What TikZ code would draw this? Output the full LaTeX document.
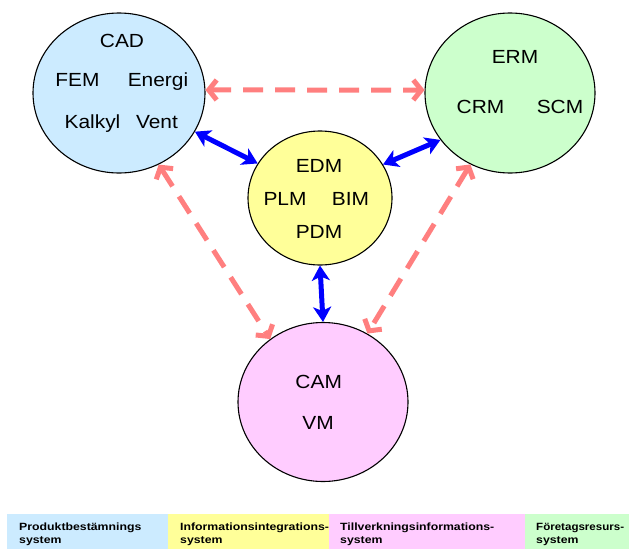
\documentclass[tikz,border=0pt]{standalone}
\usepackage{fontspec}
\setmainfont{Liberation Sans}
\usetikzlibrary{shapes.geometric,arrows.meta}
\definecolor{cblue}{HTML}{CCEBFF}
\definecolor{cyellow}{HTML}{FFFF99}
\definecolor{cpink}{HTML}{FFCCFF}
\definecolor{cgreen}{HTML}{CCFFCC}
\definecolor{salmon}{HTML}{FF7F7F}
\definecolor{arrblue}{HTML}{0000FF}
\newcommand{\ctxt}[1]{\scalebox{1.1}[1]{#1}}
\newcommand{\ltxt}[1]{\scalebox{1.17}[1]{#1}}
\tikzset{
  sys/.style={ellipse, draw=black, line width=1.1pt, inner sep=0pt},
  lbl/.style={anchor=base, inner sep=0pt, font=\fontsize{19}{22}\selectfont},
  bluearr/.style={draw=arrblue, line width=5pt, {Stealth[length=15pt,width=18pt,inset=4pt]}-{Stealth[length=15pt,width=18pt,inset=4pt]}},
  pinkarr/.style={draw=salmon, line width=5pt, dash pattern=on 20pt off 12pt,
     {Straight Barb[length=8pt,width=20pt,line width=5pt]}-{Straight Barb[length=8pt,width=20pt,line width=5pt]}},
  legtxt/.style={anchor=base west, inner sep=0pt, font=\fontsize{10.5}{13.5}\selectfont\bfseries},
}
\begin{document}
\begin{tikzpicture}[x=1pt,y=-1pt]
\useasboundingbox (0,0) rectangle (629,549);
% systems
\node[sys, fill=cblue, minimum width=172pt, minimum height=160pt] (blue) at (119,93) {};
\node[sys, fill=cgreen, minimum width=170pt, minimum height=160pt] (green) at (510,93) {};
\node[sys, fill=cyellow, minimum width=144pt, minimum height=134pt] (yellow) at (320,198) {};
\node[sys, fill=cpink, minimum width=170pt, minimum height=159pt] (pink) at (323,402) {};
% labels
\node[lbl] (cad) at (122,47) {\ctxt{CAD}};
\node[lbl] (fem) at (77.5,86) {\ctxt{FEM}};
\node[lbl] (energi) at (158,86) {\ctxt{Energi}};
\node[lbl] (kalkyl) at (92.5,128) {\ctxt{Kalkyl}};
\node[lbl] (vent) at (157,128) {\ctxt{Vent}};
\node[lbl] (erm) at (515,63) {\ctxt{ERM}};
\node[lbl] (crm) at (480.5,113) {\ctxt{CRM}};
\node[lbl] (scm) at (560,113) {\ctxt{SCM}};
\node[lbl] (edm) at (319,172) {\ctxt{EDM}};
\node[lbl] (plm) at (285,205) {\ctxt{PLM}};
\node[lbl] (bim) at (350.5,205) {\ctxt{BIM}};
\node[lbl] (pdm) at (319,238) {\ctxt{PDM}};
\node[lbl] (cam) at (318.7,388) {\ctxt{CAM}};
\node[lbl] (vm) at (318,429) {\ctxt{VM}};
% connectors
\draw[bluearr] (blue.-27) -- (yellow.151);
\draw[bluearr] (yellow.28) -- (green.214);
\draw[bluearr] (yellow.south) -- (pink.north);
\draw[pinkarr] (blue.2) -- (green.178);
\draw[pinkarr] (blue.-61.6) -- (pink.130.7);
\draw[pinkarr] (green.241.6) -- (pink.57.9);
% legend
\fill[cblue] (7,514) rectangle (168,549);
\fill[cyellow] (168,514) rectangle (329,549);
\fill[cpink] (329,514) rectangle (525,549);
\fill[cgreen] (525,514) rectangle (629,549);
\node[legtxt] (l1a) at (19,530) {\ltxt{Produktbestämnings}};
\node[legtxt] (l1b) at (19,543) {\ltxt{system}};
\node[legtxt] (l2a) at (180,530) {\ltxt{Informationsintegrations-}};
\node[legtxt] (l2b) at (180,543) {\ltxt{system}};
\node[legtxt] (l3a) at (340,530) {\ltxt{Tillverkningsinformations-}};
\node[legtxt] (l3b) at (340,543) {\ltxt{system}};
\node[legtxt] (l4a) at (536,530) {\scalebox{1.1}[1]{Företagsresurs-}};
\node[legtxt] (l4b) at (536,543) {\ltxt{system}};
\end{tikzpicture}
\end{document}
